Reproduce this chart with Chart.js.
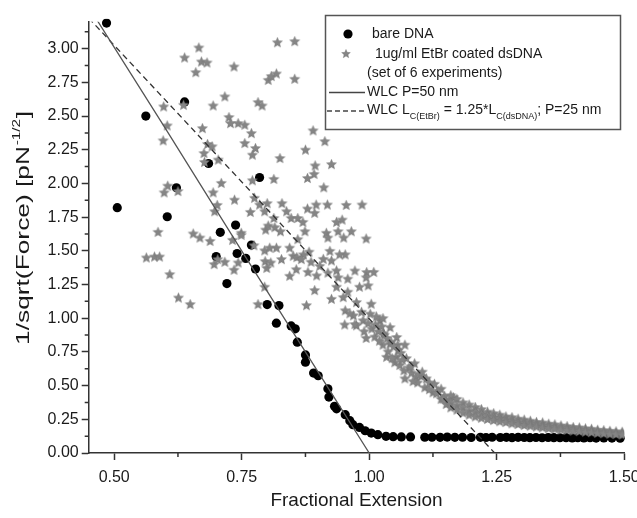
<!DOCTYPE html>
<html lang="en">
<head>
<meta charset="UTF-8">
<title>WLC fit - bare DNA vs EtBr coated dsDNA</title>
<script src="https://cdn.jsdelivr.net/npm/chart.js"></script>
<style>
  body { margin: 0; background: #fff; }
  canvas { display: block; }
</style>
</head>
<body>
<canvas id="grafico" width="637" height="518"></canvas>
<script>
// ---- dados ----
const xTicks = [0.50, 0.75, 1.00, 1.25, 1.50];
const xMinorTicks = [0.625, 0.875, 1.125, 1.375];
const yTicks = [0, 0.25, 0.5, 0.75, 1.0, 1.25, 1.5, 1.75, 2.0, 2.25, 2.5, 2.75, 3.0];
const yMinorTicks = [0.125, 0.375, 0.625, 0.875, 1.125, 1.375, 1.625, 1.875, 2.125, 2.375, 2.625, 2.875, 3.125];

// bare DNA (circulos pretos)
const bareX = [
  0.485, 0.562, 0.638, 0.506, 0.604, 0.622, 0.685, 0.785, 0.738, 0.708,
  0.700, 0.741, 0.758, 0.769, 0.777, 0.721, 0.800, 0.823, 0.818, 0.847,
  0.855, 0.859, 0.875, 0.875, 0.891, 0.900, 0.919, 0.921, 0.932, 0.936,
  0.953, 0.962, 0.968, 0.981, 0.992, 1.004, 1.017,
  1.033, 1.047, 1.063, 1.081, 1.109, 1.123, 1.139, 1.153, 1.168, 1.183,
  1.200, 1.218, 1.229, 1.241, 1.257, 1.269, 1.280, 1.292, 1.304, 1.315,
  1.327, 1.339, 1.351, 1.362, 1.374, 1.386, 1.398, 1.409, 1.421, 1.433,
  1.445, 1.460, 1.476, 1.492
];
const bareY = [
  3.190, 2.500, 2.605, 1.820, 1.753, 1.968, 2.148, 2.044, 1.691, 1.637,
  1.457, 1.480, 1.444, 1.543, 1.365, 1.257, 1.101, 1.094, 0.963, 0.943,
  0.921, 0.822, 0.728, 0.674, 0.593, 0.573, 0.476, 0.415, 0.346, 0.328,
  0.284, 0.240, 0.210, 0.190, 0.165, 0.148, 0.136,
  0.124, 0.121, 0.119, 0.119, 0.117, 0.117, 0.116, 0.118, 0.116, 0.117,
  0.115, 0.116, 0.115, 0.117, 0.115, 0.116, 0.114, 0.116, 0.115, 0.114,
  0.115, 0.113, 0.115, 0.114, 0.113, 0.114, 0.112, 0.113, 0.112, 0.113,
  0.111, 0.112, 0.111, 0.110
];

// 1ug/ml EtBr coated dsDNA (estrelas cinza)
const etbrX = [
  0.666, 0.638, 0.671, 0.682, 0.660, 0.735, 0.802, 0.717, 0.694, 0.782,
  0.790, 0.597, 0.636, 0.604, 0.596, 0.673, 0.725, 0.728, 0.743, 0.756,
  0.769, 0.756, 0.777, 0.771, 0.683, 0.692, 0.676, 0.704, 0.677, 0.710,
  0.771, 0.605, 0.598, 0.625, 0.694, 0.736, 0.775, 0.785, 0.702, 0.697,
  0.767, 0.795, 0.797, 0.586, 0.655, 0.749,
  0.820, 0.854, 0.808, 0.818, 0.854, 0.890, 0.913, 0.875, 0.825, 0.894,
  0.926, 0.892, 0.879, 0.813, 0.911, 0.800, 0.829, 0.879, 0.896, 0.918,
  0.955, 0.986, 0.893, 0.838, 0.847, 0.860, 0.870, 0.936, 0.947, 0.939,
  0.965, 0.916, 0.826, 0.874, 0.813,
  0.802, 0.815, 0.953, 0.818, 0.796, 0.799, 0.851, 0.858, 0.871, 0.910,
  0.926, 0.897, 0.936, 0.995, 0.953, 0.969, 0.975, 0.988, 1.002, 1.021,
  1.028, 1.041, 1.054, 1.041, 1.057, 1.034, 1.050,
  0.563, 0.579, 0.589, 0.609, 0.626, 0.649, 0.668, 0.688, 0.732, 0.749,
  0.696, 0.717, 0.735, 0.743, 0.774, 0.795, 0.795, 0.782, 0.703,
  0.805, 0.844, 0.860, 0.919, 0.950, 0.994, 0.923, 0.942, 0.882, 0.807,
  0.828, 0.867, 0.903, 0.886, 0.844, 0.857, 0.880, 0.919, 0.939, 0.972,
  0.958, 0.994, 1.009, 0.936, 0.893, 0.958, 0.981, 0.998, 0.926, 0.949,
  0.975, 1.004, 0.877, 0.962, 0.985, 1.014, 1.027, 0.952, 0.972, 0.998,
  1.024, 0.994, 1.011, 1.030, 1.043, 1.027, 1.056, 1.070, 1.037, 1.053,
  1.073, 1.089, 1.060, 1.083, 1.102, 1.092, 1.112, 1.128, 1.141, 1.109,
  1.125, 1.141, 1.151,
  1.065, 1.078, 1.097, 1.118, 1.135, 1.148, 1.158, 1.165,
  1.005, 1.018, 1.035, 1.048, 1.062, 1.045, 1.068, 1.082, 1.095, 1.104,
  1.118, 1.132, 1.145, 1.012, 0.990, 1.020, 1.070, 1.086,
  1.160, 1.160, 1.160, 1.172, 1.172, 1.172, 1.184, 1.184, 1.184,
  1.196, 1.196, 1.196, 1.208, 1.208, 1.208, 1.220, 1.220, 1.220,
  1.232, 1.232, 1.232, 1.244, 1.244, 1.244, 1.256, 1.256, 1.256,
  1.268, 1.268, 1.268, 1.280, 1.280, 1.280, 1.292, 1.292, 1.292,
  1.304, 1.304, 1.304, 1.316, 1.316, 1.316, 1.328, 1.328, 1.328,
  1.340, 1.340, 1.340, 1.352, 1.352, 1.352, 1.364, 1.364, 1.364,
  1.376, 1.376, 1.376, 1.388, 1.388, 1.388, 1.400, 1.400, 1.400,
  1.412, 1.412, 1.412, 1.424, 1.424, 1.424, 1.436, 1.436, 1.436,
  1.448, 1.448, 1.448, 1.460, 1.460, 1.460, 1.472, 1.472, 1.472,
  1.484, 1.484, 1.484, 1.496, 1.496, 1.496
];
const etbrY = [
  3.005, 2.931, 2.901, 2.894, 2.822, 2.864, 2.765, 2.642, 2.575, 2.600,
  2.575, 2.568, 2.580, 2.427, 2.316, 2.407, 2.489, 2.444, 2.444, 2.432,
  2.370, 2.296, 2.259, 2.210, 2.289, 2.272, 2.222, 2.173, 2.156, 2.000,
  2.020, 1.980, 1.930, 1.940, 1.930, 1.876, 1.890, 1.840, 1.837, 1.790,
  1.785, 1.790, 1.654, 1.637, 1.625, 1.630,
  3.044, 3.052, 2.793, 2.812, 2.773, 2.390, 2.310, 2.247, 2.185, 2.130,
  2.140, 2.067, 2.037, 2.030, 1.968, 1.850, 1.850, 1.810, 1.840, 1.840,
  1.837, 1.840, 1.778, 1.790, 1.740, 1.740, 1.711, 1.711, 1.728, 1.642,
  1.642, 1.630, 1.642, 1.642, 1.740,
  1.684, 1.672, 1.470, 1.520, 1.420, 1.370, 1.460, 1.450, 1.470, 1.437,
  1.425, 1.314, 1.351, 1.339, 1.055, 1.018, 0.944, 0.981, 1.030, 0.981,
  0.884, 0.930, 0.857, 0.808, 0.760, 0.710, 0.670,
  1.447, 1.454, 1.454, 1.323, 1.150, 1.101, 1.595, 1.570, 1.578, 1.615,
  1.398, 1.415, 1.356, 1.410, 1.538, 1.500, 1.230, 1.101, 1.435,
  1.520, 1.520, 1.583, 1.595, 1.595, 1.588, 1.496, 1.470, 1.490, 1.410,
  1.435, 1.435, 1.385, 1.415, 1.311, 1.360, 1.340, 1.335, 1.300, 1.350,
  1.290, 1.300, 1.340, 1.230, 1.205, 1.193, 1.230, 1.240, 1.140, 1.153,
  1.116, 1.104, 1.093, 1.033, 1.044, 1.010, 0.997, 0.950, 0.953, 0.960,
  0.936, 0.850, 0.860, 0.874, 0.822, 0.800, 0.800, 0.800, 0.750, 0.711,
  0.700, 0.662, 0.650, 0.593, 0.568, 0.563, 0.550, 0.510, 0.473, 0.484,
  0.447, 0.398, 0.360,
  0.690, 0.630, 0.580, 0.520, 0.460, 0.420, 0.390, 0.410,
  0.920, 0.900, 0.850, 0.790, 0.740, 0.700, 0.610, 0.640, 0.520, 0.600,
  0.470, 0.440, 0.400, 0.950, 0.900, 0.830, 0.550, 0.530,
  0.425, 0.372, 0.335, 0.398, 0.352, 0.318, 0.372, 0.335, 0.296,
  0.356, 0.312, 0.281, 0.338, 0.301, 0.268, 0.322, 0.287, 0.258,
  0.303, 0.276, 0.249, 0.292, 0.262, 0.241, 0.281, 0.256, 0.232,
  0.268, 0.247, 0.226, 0.262, 0.236, 0.217, 0.251, 0.229, 0.211,
  0.244, 0.221, 0.204, 0.236, 0.216, 0.199, 0.227, 0.209, 0.193,
  0.223, 0.201, 0.187, 0.214, 0.196, 0.181, 0.209, 0.189, 0.177,
  0.201, 0.186, 0.171, 0.196, 0.179, 0.168, 0.189, 0.176, 0.162,
  0.186, 0.169, 0.159, 0.179, 0.166, 0.154, 0.176, 0.159, 0.151,
  0.169, 0.156, 0.146, 0.166, 0.151, 0.143, 0.161, 0.149, 0.139,
  0.157, 0.144, 0.137, 0.154, 0.142, 0.133
];

// curvas WLC
const wlc50X = [0.45, 0.60, 0.75, 0.90, 1.00];
const wlc50Y = [3.31, 2.41, 1.50, 0.60, 0.00];
const wlcEtbrX = [0.45, 0.70, 1.00, 1.246];
const wlcEtbrY = [3.227, 2.215, 0.996, 0.00];

// ---- utilitarios ----
const FONTE = '"Liberation Sans", Arial, sans-serif';
const COR_TEXTO = '#1a1a1a';
const COR_EIXO = '#333';
const COR_ESTRELA = '#858585';

function pares(xs, ys) {
    return xs.map((x, i) => ({ x: x, y: ys[i] }));
}

// estrela de 5 pontas preenchida, usada como pointStyle
function criarEstrela(raio, cor) {
    const tam = Math.ceil(raio * 2 + 2);
    const c = document.createElement('canvas');
    c.width = tam;
    c.height = tam;
    const g = c.getContext('2d');
    g.beginPath();
    for (let i = 0; i < 10; i++) {
        const r = i % 2 === 0 ? raio : raio * 0.45;
        const ang = -Math.PI / 2 + i * Math.PI / 5;
        g.lineTo(tam / 2 + r * Math.cos(ang), tam / 2 + r * Math.sin(ang));
    }
    g.closePath();
    g.fillStyle = cor;
    g.fill();
    g.strokeStyle = 'rgba(110,110,110,0.6)';
    g.lineWidth = 0.6;
    g.stroke();
    return c;
}

const estrela = criarEstrela(5.3, COR_ESTRELA);
const estrelaLegenda = criarEstrela(4.6, COR_ESTRELA);

// ticks menores dos dois eixos
const minorTicksPlugin = {
    id: 'minorTicks',
    afterDraw(chart) {
        const ctx = chart.ctx;
        const xs = chart.scales.x, ys = chart.scales.y;
        ctx.save();
        ctx.strokeStyle = COR_EIXO;
        ctx.lineWidth = 1.5;
        ctx.beginPath();
        xMinorTicks.forEach(v => {
            const px = xs.getPixelForValue(v);
            ctx.moveTo(px, xs.top);
            ctx.lineTo(px, xs.top + 4);
        });
        yMinorTicks.forEach(v => {
            const py = ys.getPixelForValue(v);
            ctx.moveTo(ys.right, py);
            ctx.lineTo(ys.right - 4, py);
        });
        ctx.stroke();
        ctx.restore();
    }
};

// titulos dos eixos (com sobrescrito no eixo y)
const titulosPlugin = {
    id: 'titulos',
    afterDraw(chart) {
        const ctx = chart.ctx;
        const area = chart.chartArea;
        ctx.save();
        ctx.fillStyle = COR_TEXTO;
        ctx.textBaseline = 'middle';

        ctx.font = '19px ' + FONTE;
        ctx.textAlign = 'center';
        ctx.fillText('Fractional Extension', (area.left + area.right) / 2, 501);

        // eixo y, rotacionado (no original o texto aparece esticado na vertical)
        const parte1 = '1/sqrt(Force) [pN';
        const sup = '-1/2';
        const parte2 = ']';
        ctx.font = '19px ' + FONTE;
        const w1 = ctx.measureText(parte1).width;
        const w3 = ctx.measureText(parte2).width;
        ctx.font = '11px ' + FONTE;
        const w2 = ctx.measureText(sup).width;
        const total = w1 + w2 + w3 + 1;
        const estica = 234 / total;
        ctx.translate(24, 228);
        ctx.rotate(-Math.PI / 2);
        ctx.scale(estica, 1);
        ctx.textAlign = 'left';
        const x0 = -total / 2;
        ctx.font = '19px ' + FONTE;
        ctx.fillText(parte1, x0, 0);
        ctx.font = '11px ' + FONTE;
        ctx.fillText(sup, x0 + w1 + 0.5, -7);
        ctx.font = '19px ' + FONTE;
        ctx.fillText(parte2, x0 + w1 + w2 + 1, 0);
        ctx.restore();
    }
};

// legenda desenhada como no original
const legendaPlugin = {
    id: 'legendaBox',
    afterDraw(chart) {
        const ctx = chart.ctx;
        ctx.save();
        ctx.fillStyle = '#fff';
        ctx.fillRect(325, 15, 295, 114);
        ctx.strokeStyle = '#555';
        ctx.lineWidth = 1.5;
        ctx.strokeRect(325.5, 15.5, 295, 114);

        // simbolos
        ctx.fillStyle = '#000';
        ctx.beginPath();
        ctx.arc(348, 34, 4.6, 0, Math.PI * 2);
        ctx.fill();
        ctx.drawImage(estrelaLegenda, 346 - estrelaLegenda.width / 2, 54 - estrelaLegenda.height / 2);

        ctx.strokeStyle = '#444';
        ctx.lineWidth = 1.3;
        ctx.beginPath();
        ctx.moveTo(329, 92.5);
        ctx.lineTo(365, 92.5);
        ctx.stroke();
        ctx.setLineDash([5, 3]);
        ctx.beginPath();
        ctx.moveTo(327, 111);
        ctx.lineTo(365, 111);
        ctx.stroke();
        ctx.setLineDash([]);

        // textos
        ctx.fillStyle = COR_TEXTO;
        ctx.textBaseline = 'middle';
        ctx.textAlign = 'left';
        ctx.font = '14px ' + FONTE;
        ctx.fillText('bare DNA', 372, 34);
        ctx.fillText('1ug/ml EtBr coated dsDNA', 375, 54);
        ctx.fillText('(set of 6 experiments)', 367, 73);
        ctx.fillText('WLC P=50 nm', 367, 92);

        const partes = [
            ['WLC L', 14, 0],
            ['C(EtBr)', 9, 6],
            [' = 1.25*L', 14, 0],
            ['C(dsDNA)', 9, 6],
            ['; P=25 nm', 14, 0]
        ];
        let x = 367;
        partes.forEach(p => {
            ctx.font = p[1] + 'px ' + FONTE;
            ctx.fillText(p[0], x, 110.5 + p[2]);
            x += ctx.measureText(p[0]).width;
        });
        ctx.restore();
    }
};

const eixoComum = {
    grid: { drawOnChartArea: false, drawTicks: true, tickLength: 7, color: COR_EIXO, tickColor: COR_EIXO, tickWidth: 1.5 },
    border: { color: COR_EIXO, width: 1.5 }
};

const ctx = document.getElementById('grafico').getContext('2d');

new Chart(ctx, {
    type: 'scatter',
    data: {
        datasets: [
            {
                label: 'WLC P=50 nm',
                data: pares(wlc50X, wlc50Y),
                showLine: true,
                borderColor: '#555',
                borderWidth: 1.3,
                pointRadius: 0,
                order: 0
            },
            {
                label: 'WLC Lc(EtBr) = 1.25*Lc(dsDNA); P=25 nm',
                data: pares(wlcEtbrX, wlcEtbrY),
                showLine: true,
                borderColor: '#333',
                borderWidth: 1.3,
                borderDash: [6, 4],
                pointRadius: 0,
                order: 1
            },
            {
                label: '1ug/ml EtBr coated dsDNA',
                data: pares(etbrX, etbrY),
                pointStyle: estrela,
                pointRadius: 5,
                order: 2
            },
            {
                label: 'bare DNA',
                data: pares(bareX, bareY),
                pointStyle: 'circle',
                pointRadius: 4.6,
                backgroundColor: '#000',
                borderColor: '#000',
                borderWidth: 0,
                clip: { left: 6, right: 6, top: 3, bottom: 6 },
                order: 3
            }
        ]
    },
    options: {
        responsive: false,
        animation: false,
        layout: { padding: { left: 0, right: 12.8, top: 21.7, bottom: 0 } },
        plugins: {
            legend: { display: false },
            tooltip: { enabled: false }
        },
        scales: {
            x: {
                ...eixoComum,
                type: 'linear',
                min: 0.45,
                max: 1.5,
                afterBuildTicks(s) { s.ticks = xTicks.map(v => ({ value: v })); },
                afterFit(s) { s.height = 65; s.paddingLeft = 0; s.paddingRight = 0; },
                ticks: {
                    callback: v => Number(v).toFixed(2),
                    font: { family: FONTE, size: 16 },
                    color: COR_TEXTO,
                    padding: 8,
                    maxRotation: 0,
                    autoSkip: false
                }
            },
            y: {
                ...eixoComum,
                type: 'linear',
                min: 0,
                max: 3.2,
                afterBuildTicks(s) { s.ticks = yTicks.map(v => ({ value: v })); },
                afterFit(s) { s.width = 88.7; s.paddingTop = 0; s.paddingBottom = 0; },
                ticks: {
                    callback: v => Number(v).toFixed(2),
                    font: { family: FONTE, size: 16 },
                    color: COR_TEXTO,
                    padding: 3,
                    autoSkip: false
                }
            }
        }
    },
    plugins: [minorTicksPlugin, titulosPlugin, legendaPlugin]
});
</script>
</body>
</html>
